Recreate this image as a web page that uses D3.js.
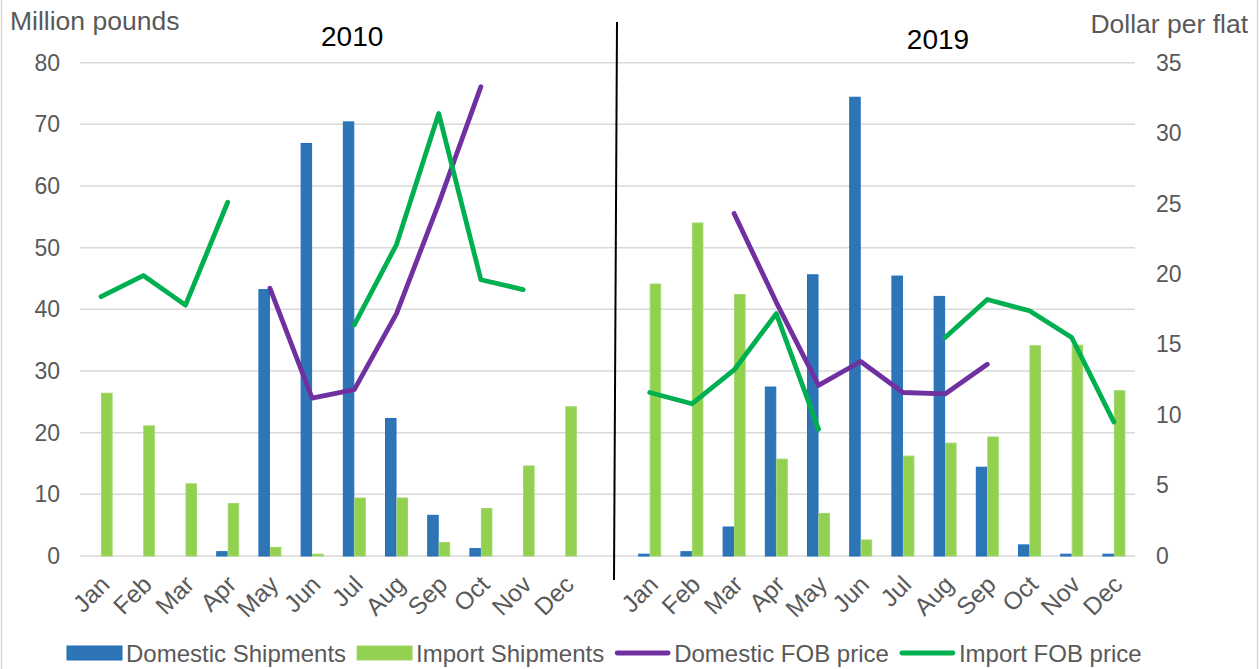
<!DOCTYPE html>
<html>
<head>
<meta charset="utf-8">
<script src="https://cdn.jsdelivr.net/npm/d3@7"></script>
<style>
  body { margin: 0; background: #fff; }
  svg { display: block; font-family: "Liberation Sans", Arial, sans-serif; }
</style>
</head>
<body>
<svg width="1260" height="669"></svg>
<script>
// values
const months = ['Jan','Feb','Mar','Apr','May','Jun','Jul','Aug','Sep','Oct','Nov','Dec'];
const years = ['2010', '2019'];

const domShip2010 = [0, 0, 0, 0.7, 43.2, 66.9, 70.4, 22.3, 6.6, 1.2, 0, 0];
const impShip2010 = [26.4, 21.1, 11.7, 8.5, 1.4, 0.3, 9.4, 9.4, 2.2, 7.7, 14.6, 24.2];
const domFob2010  = [null, null, null, null, 19.0, 11.2, 11.8, 17.2, 25.0, 33.3, null, null];
const impFob2010  = [18.4, 19.9, 17.8, 25.1, null, null, 16.4, 22.1, 31.4, 19.6, 18.9, null];

const domShip2019 = [0.3, 0.7, 4.7, 27.4, 45.6, 74.4, 45.4, 42.1, 14.4, 1.8, 0.3, 0.3];
const impShip2019 = [44.1, 54.0, 42.4, 15.7, 6.9, 2.6, 16.2, 18.3, 19.3, 34.1, 34.2, 26.8];
const domFob2019  = [null, null, 24.3, 18.0, 12.1, 13.8, 11.6, 11.5, 13.6, null, null, null];
const impFob2019  = [11.6, 10.8, 13.2, 17.2, 9.0, null, null, 15.5, 18.2, 17.4, 15.5, 9.5];

const leftTicks = d3.range(0, 81, 10);
const rightTicks = d3.range(0, 36, 5);

const seriesNames = ['Domestic Shipments', 'Import Shipments', 'Domestic FOB price', 'Import FOB price'];
const colors = { dom: '#2E75B6', imp: '#92D050', domFob: '#7030A0', impFob: '#00B050' };

// one slot per month, plus an empty slot between the two years
let rows = [];
months.forEach((m, i) => rows.push({ key: 'a' + i, month: m, dom: domShip2010[i], imp: impShip2010[i], domFob: domFob2010[i], impFob: impFob2010[i] }));
rows.push({ key: 'gap', month: '', dom: null, imp: null, domFob: null, impFob: null });
months.forEach((m, i) => rows.push({ key: 'b' + i, month: m, dom: domShip2019[i], imp: impShip2019[i], domFob: domFob2019[i], impFob: impFob2019[i] }));

const svg = d3.select('svg');
const plotLeft = 80, plotRight = 1135, plotTop = 62.7, plotBottom = 556;

const x = d3.scaleBand().domain(rows.map(d => d.key)).range([plotLeft, plotRight]).padding(0);
const x1 = d3.scaleBand().domain(['dom', 'imp'])
  .range([x.bandwidth() * 0.228, x.bandwidth() * 0.772]).padding(0);
const y = d3.scaleLinear().domain([0, 80]).range([plotBottom, plotTop]);
const y2 = d3.scaleLinear().domain([0, 35]).range([plotBottom, plotTop]);

// outer frame
svg.append('rect')
  .attr('x', 1.5).attr('y', -1).attr('width', 1256).attr('height', 672)
  .attr('fill', 'none').attr('stroke', '#d9d9d9').attr('stroke-width', 1.5);

// gridlines
svg.append('g').selectAll('line').data(leftTicks).join('line')
  .attr('x1', plotLeft).attr('x2', plotRight)
  .attr('y1', d => y(d)).attr('y2', d => y(d))
  .attr('stroke', '#d9d9d9').attr('stroke-width', 1.5);

// left axis
const gl = svg.append('g').attr('transform', `translate(${plotLeft},0)`)
  .call(d3.axisLeft(y).tickValues(leftTicks).tickSize(0).tickPadding(20));
gl.select('.domain').remove();
gl.selectAll('text').attr('font-size', 23).attr('fill', '#595959').attr('font-family', '"Liberation Sans", Arial, sans-serif');

// right axis
const gr = svg.append('g').attr('transform', `translate(${plotRight},0)`)
  .call(d3.axisRight(y2).tickValues(rightTicks).tickSize(0).tickPadding(21));
gr.select('.domain').remove();
gr.selectAll('text').attr('font-size', 23).attr('fill', '#595959').attr('font-family', '"Liberation Sans", Arial, sans-serif');

// bars
const groups = svg.append('g').selectAll('g').data(rows).join('g')
  .attr('transform', d => `translate(${x(d.key)},0)`);
groups.selectAll('rect')
  .data(d => ['dom', 'imp'].filter(k => d[k] != null && d[k] > 0).map(k => ({ k, v: d[k] })))
  .join('rect')
  .attr('x', d => x1(d.k) + 0.5)
  .attr('width', x1.bandwidth() - 1)
  .attr('y', d => y(d.v))
  .attr('height', d => y(0) - y(d.v))
  .attr('fill', d => colors[d.k])
  .attr('stroke', d => d.k === 'dom' ? '#1F6FBF' : '#9ED66A')
  .attr('stroke-width', 1);

// price lines
['domFob', 'impFob'].forEach(k => {
  const line = d3.line()
    .defined(d => d[k] != null)
    .x(d => x(d.key) + x.bandwidth() / 2)
    .y(d => y2(d[k]));
  svg.append('path').datum(rows)
    .attr('d', line)
    .attr('fill', 'none')
    .attr('stroke', colors[k])
    .attr('stroke-width', 4.8)
    .attr('stroke-linecap', 'round')
    .attr('stroke-linejoin', 'round');
});

// month labels
svg.append('g').selectAll('text').data(rows.filter(d => d.month)).join('text')
  .attr('transform', d => `translate(${x(d.key) + x.bandwidth() / 2 + 4},${plotBottom + 24}) rotate(-45)`)
  .attr('text-anchor', 'end')
  .attr('dy', '0.35em')
  .attr('font-size', 24.5)
  .attr('fill', '#595959')
  .text(d => d.month);

// divider between the two years
const gapX = x('gap') + x.bandwidth() / 2 + 8;
svg.append('line')
  .attr('x1', gapX + 1.5).attr('y1', 22)
  .attr('x2', gapX - 1.5).attr('y2', 580)
  .attr('stroke', '#000').attr('stroke-width', 2);

// year titles
svg.append('text').attr('x', x('a6') + 19).attr('y', 46)
  .attr('text-anchor', 'middle').attr('font-size', 28).attr('fill', '#000').text(years[0]);
svg.append('text').attr('x', x('b7') + 14).attr('y', 49)
  .attr('text-anchor', 'middle').attr('font-size', 28).attr('fill', '#000').text(years[1]);

// axis titles
svg.append('text').attr('x', 10).attr('y', 30)
  .attr('font-size', 26.5).attr('fill', '#595959').text('Million pounds');
svg.append('text').attr('x', 1248).attr('y', 33)
  .attr('text-anchor', 'end')
  .attr('font-size', 26.5).attr('fill', '#595959').text('Dollar per flat');

// legend
const legend = svg.append('g');
let lx = 67;
const ly = 653;
seriesNames.forEach((name, i) => {
  const k = ['dom', 'imp', 'domFob', 'impFob'][i];
  if (i < 2) {
    legend.append('rect').attr('x', lx).attr('y', ly - 7).attr('width', 55).attr('height', 14)
      .attr('fill', colors[k]).attr('stroke', k === 'dom' ? '#1F6FBF' : '#9ED66A');
  } else {
    legend.append('line').attr('x1', lx + 2).attr('x2', lx + 53).attr('y1', ly).attr('y2', ly)
      .attr('stroke', colors[k]).attr('stroke-width', 4.8).attr('stroke-linecap', 'round');
  }
  const t = legend.append('text').attr('x', lx + 59).attr('y', ly + 8.5)
    .attr('font-size', 24).attr('fill', '#595959').text(name);
  lx += 59 + t.node().getComputedTextLength() + 11;
});
</script>
</body>
</html>
